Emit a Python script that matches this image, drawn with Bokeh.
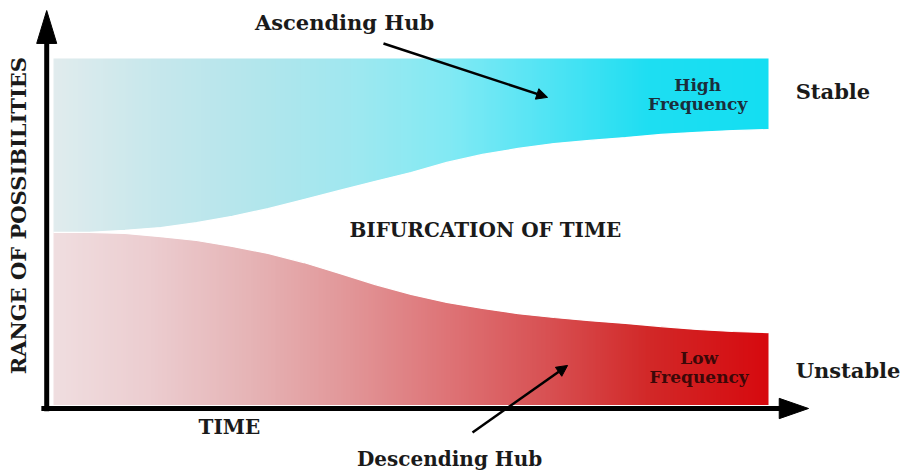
import numpy as np
from bokeh.plotting import figure
from bokeh.models import Range1d, Arrow, NormalHead
from bokeh.core.properties import value
from bokeh.embed import file_html
from bokeh.resources import INLINE

# ---- data (time 0..10, range of possibilities 0..10) ----
time = [0, 0.5, 1, 1.5, 2, 2.5, 3, 3.5, 4, 4.5, 5, 5.5, 6, 6.5, 7, 7.5, 8, 8.5, 9, 9.5, 10]
upper_top = [10, 10, 10, 10, 10, 10, 10, 10, 10, 10, 10, 10, 10, 10, 10, 10, 10, 10, 10, 10, 10]
upper_bottom = [5.03, 5.03, 5.09, 5.17, 5.31, 5.49, 5.71, 5.97, 6.23, 6.49, 6.74,
                7.03, 7.26, 7.43, 7.57, 7.66, 7.74, 7.83, 7.89, 7.94, 7.97]
lower_top = [5.03, 5.03, 5.00, 4.91, 4.80, 4.63, 4.43, 4.17, 3.86, 3.54, 3.26,
             3.03, 2.86, 2.71, 2.60, 2.51, 2.43, 2.34, 2.26, 2.20, 2.17]
lower_bottom = [0.1] * 21

# ---- colour stops for the horizontal gradients (style) ----
grad_pos = [0, 1.36, 2.76, 4.15, 5.55, 6.95, 8.35, 10]
cyan_stops = [(225, 236, 238), (200, 232, 236), (180, 230, 236), (160, 232, 240),
              (130, 234, 244), (80, 228, 244), (30, 222, 242), (20, 222, 242)]
red_stops = [(240, 222, 224), (236, 205, 208), (230, 180, 182), (226, 150, 152),
             (222, 115, 118), (216, 80, 82), (210, 40, 40), (215, 10, 15)]


def gradient_image(stops, n=400):
    xs = np.linspace(0, 10, n)
    img = np.empty((2, n), dtype=np.uint32)
    view = img.view(dtype=np.uint8).reshape((2, n, 4))
    for c in range(3):
        ch = np.interp(xs, grad_pos, [s[c] for s in stops])
        view[:, :, c] = ch.astype(np.uint8)
    view[:, :, 3] = 255
    return img


p = figure(width=905, height=471,
           x_range=Range1d(-0.7413, 11.916), y_range=Range1d(-1.8, 11.657),
           output_backend="svg", toolbar_location=None, min_border=0,
           x_axis_location=None, y_axis_location=None)
p.grid.visible = False
p.outline_line_color = None
p.background_fill_color = "white"
p.border_fill_color = "white"

t0, t1 = min(time), max(time)
# upper (high frequency) band
ub_lo, ub_hi = min(upper_bottom), max(upper_top)
p.image_rgba(image=[gradient_image(cyan_stops)], x=t0, y=ub_lo, dw=t1 - t0, dh=ub_hi - ub_lo)
# lower (low frequency) band
lb_lo, lb_hi = min(lower_bottom), max(lower_top)
p.image_rgba(image=[gradient_image(red_stops)], x=t0, y=lb_lo, dw=t1 - t0, dh=lb_hi - lb_lo)
# the gap between the two branches
p.patch(x=time + time[::-1], y=lower_top + upper_bottom[::-1],
        fill_color="white", line_color="white", line_width=1.2)

# ---- axes with arrows ----
ax_t = -0.095
p.segment(x0=[ax_t], y0=[-0.08], x1=[ax_t], y1=[10.5], line_width=5, line_color="black")
p.segment(x0=[-0.17], y0=[0], x1=[10.2], y1=[0], line_width=5, line_color="black")
p.patches(xs=[[ax_t - 0.14, ax_t + 0.14, ax_t], [10.15, 10.15, 10.56]],
          ys=[[10.43, 10.43, 11.37], [0.29, -0.29, 0]],
          fill_color="black", line_color="black")

# hub arrows
p.add_layout(Arrow(end=NormalHead(size=11, fill_color="black", line_color="black"),
                   x_start=4.615, y_start=10.43, x_end=6.91, y_end=8.89,
                   line_width=2.5, line_color="black"))
p.add_layout(Arrow(end=NormalHead(size=11, fill_color="black", line_color="black"),
                   x_start=5.86, y_start=-0.686, x_end=7.19, y_end=1.23,
                   line_width=2.5, line_color="black"))

serif = value("DejaVu Serif")


def label(x, y, txt, size, color="#1a1a1a", align="center", angle=0.0):
    p.text(x=[x], y=[y], text=[txt], text_font=serif, text_font_style="bold",
           text_font_size=size, text_color=color, text_align=align,
           text_baseline="middle", angle=angle)


label(4.07, 11.03, "Ascending Hub", "21px")
label(5.54, -1.43, "Descending Hub", "20px")
label(6.04, 5.11, "BIFURCATION OF TIME", "20px")
label(2.46, -0.54, "TIME", "20px")
label(10.38, 9.06, "Stable", "21px", align="left")
label(10.38, 1.09, "Unstable", "21px", align="left")
label(9.01, 9.23, "High", "17px", color="#1b2e3c")
label(9.01, 8.71, "Frequency", "17px", color="#1b2e3c")
label(9.03, 1.43, "Low", "17px", color="#3c0808")
label(9.03, 0.89, "Frequency", "17px", color="#3c0808")
label(-0.49, 5.51, "RANGE OF POSSIBILITIES", "21px", angle=np.pi / 2)

open("out.html", "w").write(file_html(p, INLINE))
